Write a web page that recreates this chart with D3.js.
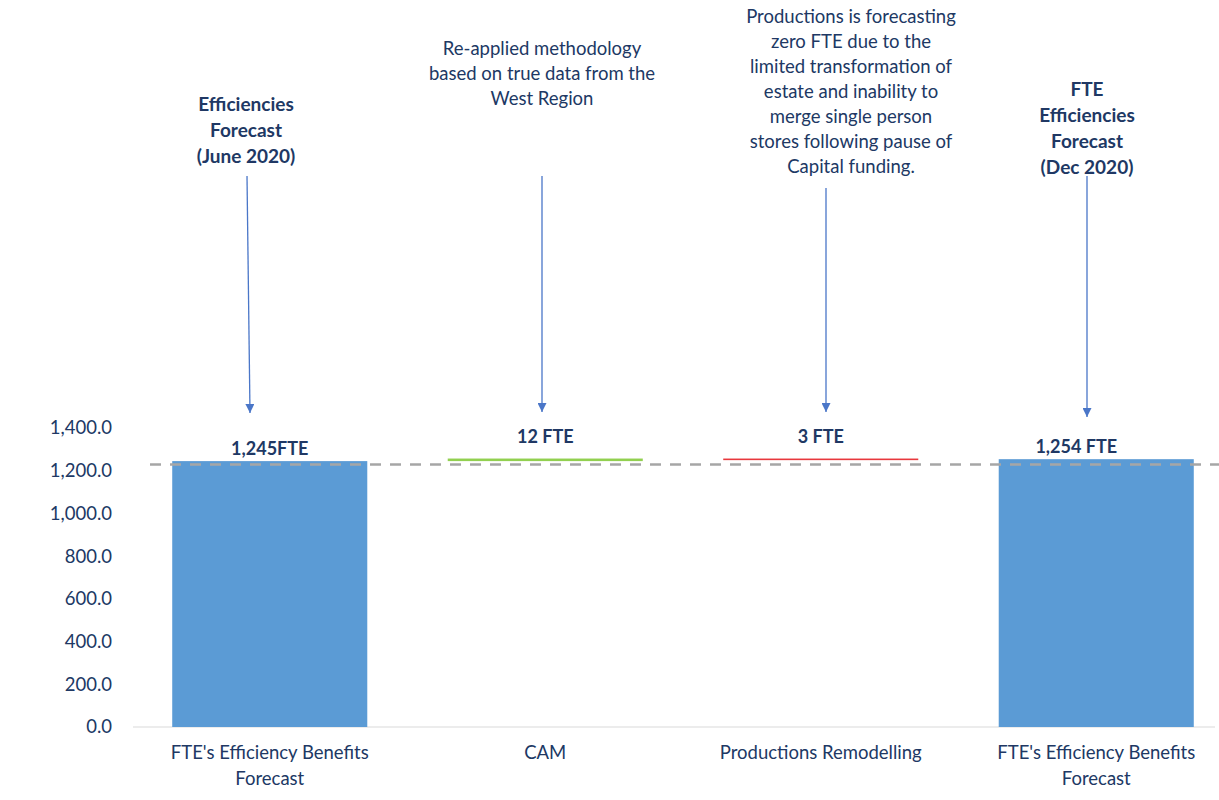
<!DOCTYPE html>
<html>
<head>
<meta charset="utf-8">
<script src="https://cdn.jsdelivr.net/npm/d3@7"></script>
<style>
  html, body { margin: 0; padding: 0; background: #ffffff; }
  svg { display: block; font-family: Lato, "Open Sans", sans-serif; }
</style>
</head>
<body>
<svg id="chart" width="1219" height="800"></svg>
<script>
// FTE efficiency bridge: opening forecast, movements, closing forecast
const categories = [
  ["FTE's Efficiency Benefits", "Forecast"],
  ["CAM"],
  ["Productions Remodelling"],
  ["FTE's Efficiency Benefits", "Forecast"]
];
const stepKinds = ["total", "increase", "decrease", "total"];
const stepValues = [1245, 12, 3, 1254];
const valueLabels = ["1,245FTE", "12 FTE", "3 FTE", "1,254 FTE"];
const referenceLevel = 1229;
const yTicks = [0, 200, 400, 600, 800, 1000, 1200, 1400];
const notes = [
  { lines: ["Efficiencies", "Forecast", "(June 2020)"], bold: true },
  { lines: ["Re-applied methodology", "based on true data from the", "West Region"], bold: false },
  { lines: ["Productions is forecasting", "zero FTE due to the", "limited transformation of",
            "estate and inability to", "merge single person",
            "stores following pause of", "Capital funding."], bold: false },
  { lines: ["FTE", "Efficiencies", "Forecast", "(Dec 2020)"], bold: true }
];

const svg = d3.select("#chart");
const navy = "#203864";
const arrowBlue = "#4a76c8";

const x = d3.scaleBand()
  .domain(d3.range(categories.length))
  .range([132, 1234])
  .paddingInner(0.292)
  .paddingOuter(0.146);

const y = d3.scaleLinear().domain([0, 1400]).range([727, 428]);

// Running totals for the waterfall segments
let running = 0;
const segments = stepValues.map((v, i) => {
  let lo, hi;
  if (stepKinds[i] === "total") { lo = 0; hi = v; running = v; }
  else if (stepKinds[i] === "increase") { lo = running; hi = running + v; running = hi; }
  else { lo = running - v; hi = running; running = lo; }
  return { i, lo, hi, kind: stepKinds[i] };
});

const fillFor = { total: "#5b9bd5", increase: "#92d050", decrease: "#e8383d" };

// Y axis tick labels (no axis line)
const yAxis = d3.axisLeft(y).tickValues(yTicks).tickFormat(d3.format(",.1f")).tickSize(0).tickPadding(0);
const yg = svg.append("g").attr("transform", "translate(112,0)").call(yAxis);
yg.select(".domain").remove();
yg.selectAll("text")
  .attr("fill", navy)
  .style("font-size", "18.5px")
  .style("font-family", "Lato, sans-serif");

// Baseline
svg.append("line")
  .attr("x1", 133).attr("x2", 1215)
  .attr("y1", y(0)).attr("y2", y(0))
  .attr("stroke", "#d9d9d9").attr("stroke-width", 1);

// Bars
svg.selectAll("rect.bar")
  .data(segments)
  .join("rect")
  .attr("class", "bar")
  .attr("x", d => x(d.i))
  .attr("width", x.bandwidth())
  .attr("y", d => y(d.hi))
  .attr("height", d => Math.max(y(d.lo) - y(d.hi), d.kind === "total" ? 0 : 1.6))
  .attr("fill", d => fillFor[d.kind]);

// Reference dashed line
svg.append("line")
  .attr("x1", 150).attr("x2", 1219)
  .attr("y1", y(referenceLevel)).attr("y2", y(referenceLevel))
  .attr("stroke", "#a6a6a6").attr("stroke-width", 2.5)
  .attr("stroke-dasharray", "11,9");

// Value labels
const labelDx = [0, 0, 0, -20];
svg.selectAll("text.vlabel")
  .data(segments)
  .join("text")
  .attr("class", "vlabel")
  .attr("x", d => x(d.i) + x.bandwidth() / 2 + labelDx[d.i])
  .attr("y", d => d.kind === "total" ? y(d.hi) - 6 : y(d.hi) - 16)
  .attr("text-anchor", "middle")
  .attr("fill", navy)
  .style("font-size", "18px")
  .style("font-weight", "700")
  .text((d, i) => valueLabels[i]);

// Category labels
const cat = svg.selectAll("g.cat")
  .data(categories)
  .join("g")
  .attr("class", "cat")
  .attr("transform", (d, i) => `translate(${x(i) + x.bandwidth() / 2},759)`);
cat.selectAll("text")
  .data(d => d)
  .join("text")
  .attr("y", (d, j) => j * 26)
  .attr("text-anchor", "middle")
  .attr("fill", navy)
  .style("font-size", "18.5px")
  .text(d => d);

// Annotation notes with arrows
const noteLayout = [
  { cx: 246, top: 111, ax: 247, ay0: 176, ax1: 250, ay1: 413 },
  { cx: 542, top: 55,  ax: 542, ay0: 176, ax1: 542, ay1: 412 },
  { cx: 851, top: 23,  ax: 826, ay0: 188, ax1: 826, ay1: 412 },
  { cx: 1087, top: 96, ax: 1087, ay0: 176, ax1: 1087, ay1: 417 }
];

svg.append("defs").append("marker")
  .attr("id", "arrowhead")
  .attr("viewBox", "0 0 10 10")
  .attr("refX", 10).attr("refY", 5)
  .attr("markerWidth", 9).attr("markerHeight", 9)
  .attr("markerUnits", "userSpaceOnUse")
  .attr("orient", "auto")
  .append("path").attr("d", "M0,0 L10,5 L0,10 Z").attr("fill", arrowBlue);

notes.forEach((n, i) => {
  const L = noteLayout[i];
  const g = svg.append("g");
  g.selectAll("text")
    .data(n.lines)
    .join("text")
    .attr("x", L.cx)
    .attr("y", (d, j) => L.top + j * (n.bold ? 26 : 25))
    .attr("text-anchor", "middle")
    .attr("fill", navy)
    .style("font-size", n.bold ? "19px" : "18.5px")
    .style("font-weight", n.bold ? "700" : "400")
    .text(d => d);
  svg.append("line")
    .attr("x1", L.ax).attr("y1", L.ay0)
    .attr("x2", L.ax1).attr("y2", L.ay1)
    .attr("stroke", arrowBlue).attr("stroke-width", 1.3)
    .attr("marker-end", "url(#arrowhead)");
});
</script>
</body>
</html>
